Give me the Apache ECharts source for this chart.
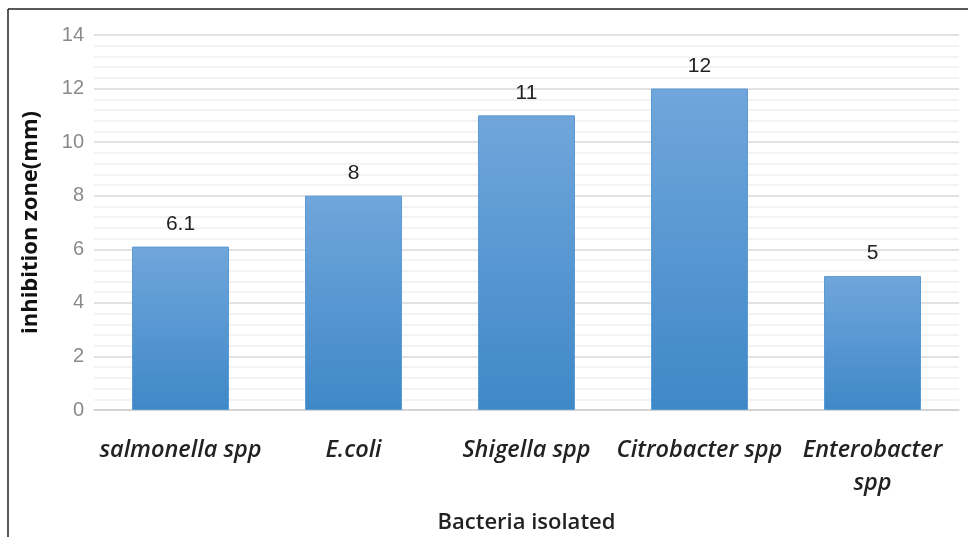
<!DOCTYPE html>
<html>
<head>
<meta charset="utf-8">
<script src="https://cdn.jsdelivr.net/npm/echarts@6/dist/echarts.min.js"></script>
<style>
  html, body { margin: 0; padding: 0; background: #fff; }
  #chart { width: 968px; height: 537px; }
</style>
</head>
<body>
<div id="chart"></div>
<script>
// data
const categories = ['salmonella spp', 'E.coli', 'Shigella spp', 'Citrobacter spp', 'Enterobacter\nspp'];
const zoneValues = [6.1, 8, 11, 12, 5];
const yTicks = [0, 2, 4, 6, 8, 10, 12, 14];

const chart = echarts.init(document.getElementById('chart'));

chart.setOption({
    animation: false,
    backgroundColor: '#fff',
    // frame of the original picture (top and left edge only)
    graphic: [
        { type: 'line', shape: { x1: 8, y1: 9, x2: 968, y2: 9 }, style: { stroke: '#222', lineWidth: 1.5 } },
        { type: 'line', shape: { x1: 8, y1: 9, x2: 8, y2: 537 }, style: { stroke: '#222', lineWidth: 1.5 } }
    ],
    grid: { left: 94, right: 9, top: 35, bottom: 127, outerBoundsMode: 'none' },
    xAxis: {
        type: 'category',
        data: categories,
        name: 'Bacteria isolated',
        nameLocation: 'middle',
        nameGap: 102,
        nameMoveOverlap: false,
        nameTextStyle: { fontFamily: 'Open Sans', fontSize: 22, color: '#222', fontWeight: 600 },
        axisLine: { lineStyle: { color: '#d0d0d0', width: 1.5 } },
        axisTick: { show: false },
        axisLabel: {
            margin: 24,
            interval: 0,
            fontFamily: 'Open Sans',
            fontStyle: 'italic',
            fontWeight: 600,
            fontSize: 23.5,
            color: '#222',
            lineHeight: 33
        }
    },
    yAxis: {
        type: 'value',
        min: yTicks[0],
        max: yTicks[yTicks.length - 1],
        interval: 2,
        name: 'inhibition zone(mm)',
        nameLocation: 'middle',
        nameGap: 52,
        nameMoveOverlap: false,
        nameTextStyle: { fontFamily: 'Open Sans', fontSize: 22, color: '#111', fontWeight: 'bold' },
        axisLine: { show: false },
        axisTick: { show: false },
        axisLabel: { fontFamily: 'Liberation Sans', fontSize: 20, color: '#8a8a8a', margin: 10 },
        splitLine: { lineStyle: { color: '#d9d9d9', width: 1.5 } },
        minorTick: { show: false, splitNumber: 5 },
        minorSplitLine: { show: true, lineStyle: { color: '#efefef', width: 1.5 } }
    },
    series: [{
        type: 'bar',
        data: zoneValues,
        barWidth: 97,
        itemStyle: {
            color: new echarts.graphic.LinearGradient(0, 0, 0, 1, [
                { offset: 0, color: '#70a6db' },
                { offset: 1, color: '#3f88c8' }
            ]),
            borderColor: '#5b9bd5',
            borderWidth: 1
        },
        label: {
            show: true,
            position: 'top',
            distance: 12,
            fontFamily: 'Liberation Sans',
            fontSize: 21,
            color: '#222'
        }
    }]
});
</script>
</body>
</html>
